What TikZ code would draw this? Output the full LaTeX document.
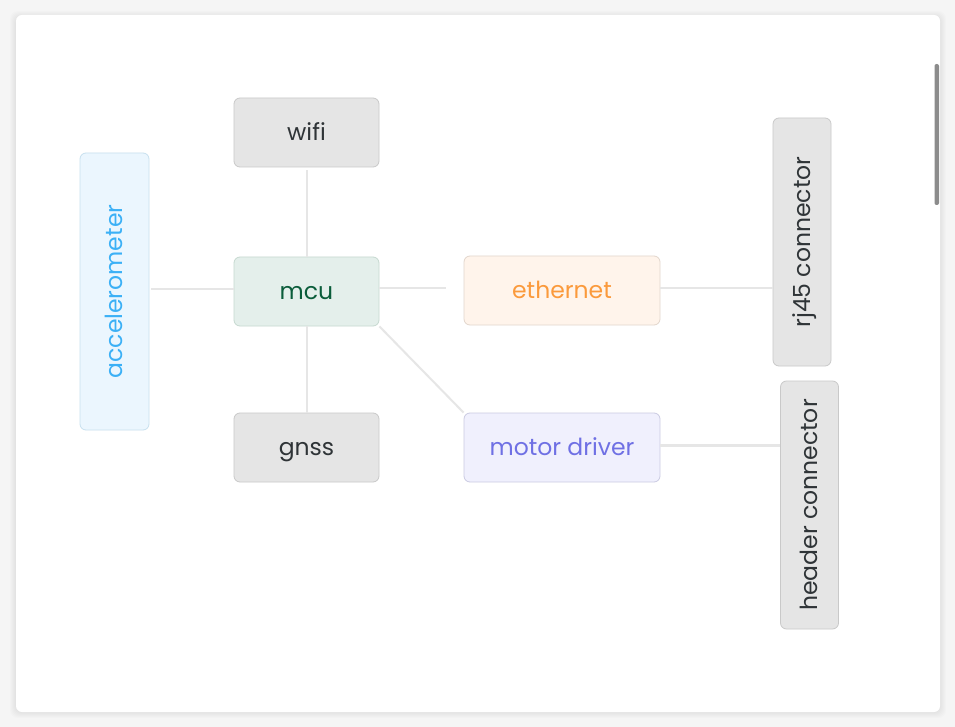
\documentclass[tikz,border=0pt]{standalone}
\usepackage{fontspec}
\setmainfont{Poppins}
\definecolor{edgegray}{HTML}{E6E6E6}
\definecolor{grayfill}{HTML}{E5E5E5}
\definecolor{grayline}{HTML}{C9C9C9}
\definecolor{graytext}{HTML}{2F3437}
\definecolor{mcufill}{HTML}{E4EFEB}
\definecolor{mculine}{HTML}{C6D9D0}
\definecolor{mcutext}{HTML}{0B5D3B}
\definecolor{accfill}{HTML}{EBF6FE}
\definecolor{accline}{HTML}{C7E0EF}
\definecolor{acctext}{HTML}{3BB0F6}
\definecolor{ethfill}{HTML}{FFF4EB}
\definecolor{ethline}{HTML}{E2D6CC}
\definecolor{ethtext}{HTML}{FB9A3C}
\definecolor{motfill}{HTML}{F0F0FD}
\definecolor{motline}{HTML}{CACAE2}
\definecolor{mottext}{HTML}{6F70E4}
\begin{document}
\begin{tikzpicture}[x=1pt,y=-1pt,
    part/.style={draw=grayline,fill=grayfill,text=graytext,rounded corners=6pt,
        line width=0.8pt,inner sep=0pt,text height=19pt,text depth=3pt,
        font=\fontsize{23.5}{28}\selectfont},
    wide/.style={part,minimum width=145pt,minimum height=69pt},
    tall/.style={part,rotate=90,minimum width=248pt,minimum height=58pt},
    link/.style={edgegray,line width=2pt}]
    \useasboundingbox (0,0) rectangle (955,727);
    \fill[white!96!black] (0,0) rectangle (955,727);
    \foreach \s in {1,...,6}
        {
            \fill[black,opacity=0.012,rounded corners=8pt] (16-\s,15-\s+2) rectangle (940+\s,712+\s);
        }
    \fill[white,rounded corners=6pt] (16,15) rectangle (940,712);
    \fill[black!45,rounded corners=2pt] (934.5,64) rectangle (939,205);

    \node[wide] (wifi) at (306.5,132.5){wifi};
    \node[wide,draw=mculine,fill=mcufill,text=mcutext] (mcu) at (306.5,291.5){mcu};
    \node[wide] (gnss) at (306.5,447.5){gnss};
    \node[part,rotate=90,minimum width=277pt,minimum height=69pt,
        draw=accline,fill=accfill,text=acctext] (accel) at (114.5,291.5){accelerometer};
    \node[wide,minimum width=196pt,draw=ethline,fill=ethfill,text=ethtext] (eth) at (562,290.5){ethernet};
    \node[wide,minimum width=196pt,draw=motline,fill=motfill,text=mottext] (motor) at (562,447.5){motor driver};
    \node[tall] (rj45) at (802,242){rj45 connector};
    \node[tall] (header) at (809.5,505){header connector};

    \draw[link,shorten <=3pt] (wifi.south) -- (mcu.north);
    \draw[link] (mcu.south) -- (gnss.north);
    \draw[link,shorten <=2pt] (accel.south |- 0,289) -- (mcu.west |- 0,289);
    \draw[link,shorten >=18pt] (mcu.east |- 0,288) -- (eth.west |- 0,288);
    \draw[link] (mcu.south east) -- (motor.north west);
    \draw[link] (eth.east |- 0,288) -- (rj45.north |- 0,288);
    \draw[link,line width=3pt] (motor.east |- 0,445) -- (header.north |- 0,445);
\end{tikzpicture}
\end{document}
